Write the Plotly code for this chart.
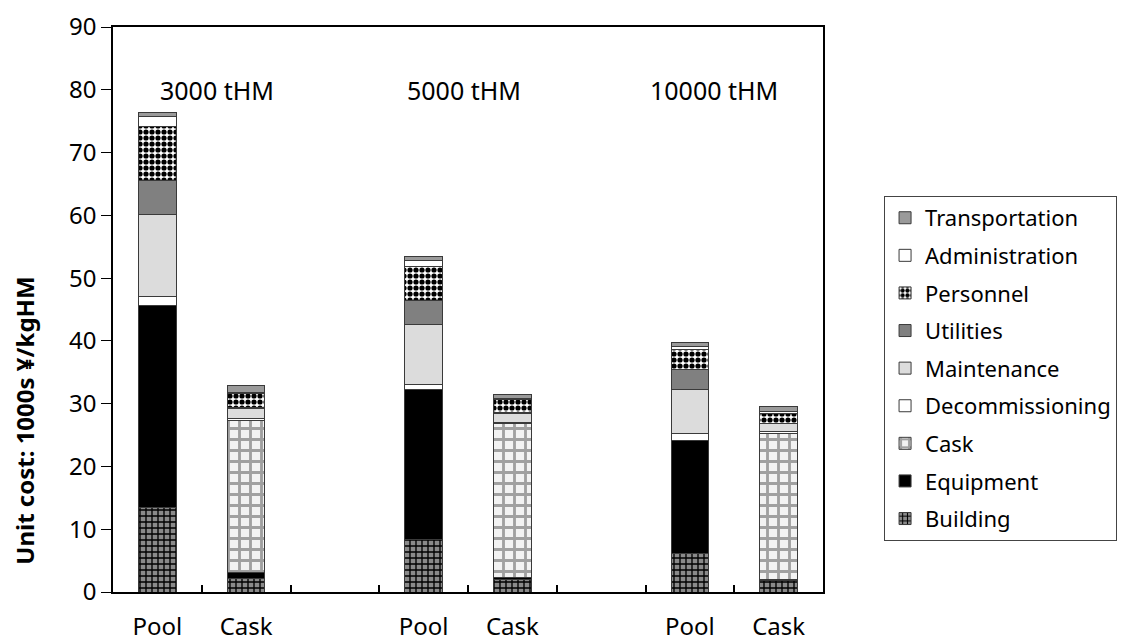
import plotly.graph_objects as go

# ---- data ----
groups = ["3000 tHM", "5000 tHM", "10000 tHM"]
bar_labels = ["Pool", "Cask", "Pool", "Cask", "Pool", "Cask"]
# bars order: Pool3000, Cask3000, Pool5000, Cask5000, Pool10000, Cask10000
building        = [13.4, 2.2, 8.4, 2.0, 6.2, 1.8]
equipment       = [32.2, 0.85, 23.8, 0.3, 18.0, 0.2]
cask            = [0.0, 24.3, 0.0, 24.5, 0.0, 23.3]
decommissioning = [1.5, 0.3, 0.9, 0.2, 1.0, 0.2]
maintenance     = [13.1, 1.6, 9.55, 1.5, 7.0, 1.3]
utilities       = [5.4, 0.1, 3.75, 0.1, 3.2, 0.1]
personnel       = [8.5, 2.2, 5.5, 2.0, 3.2, 1.6]
administration  = [1.6, 0.2, 0.85, 0.2, 0.5, 0.2]
transportation  = [0.73, 1.16, 0.75, 0.7, 0.7, 0.8]

y_ticks = [0, 10, 20, 30, 40, 50, 60, 70, 80, 90]

# slot positions: each group uses 3 slots (Pool, Cask, gap)
x_pos = [3 * (i // 2) + (i % 2) for i in range(len(bar_labels))]
group_x = [0.67, 3.46, 6.27]

FONT = "Noto Sans"
LINE = dict(color="#3a3a3a", width=1)

series = [
    ("Building", building, dict(color="#7a7a7a", pattern=dict(shape="+", fgcolor="black", bgcolor="#8a8a8a", size=6, solidity=0.4, fillmode="replace"))),
    ("Equipment", equipment, dict(color="black")),
    ("Cask", cask, dict(color="white", pattern=dict(shape="+", fgcolor="#a0a0a0", bgcolor="#f2f2f2", size=11, solidity=0.45, fillmode="replace"))),
    ("Decommissioning", decommissioning, dict(color="white")),
    ("Maintenance", maintenance, dict(color="#dcdcdc")),
    ("Utilities", utilities, dict(color="#808080")),
    ("Personnel", personnel, dict(color="white", pattern=dict(shape=".", fgcolor="black", bgcolor="white", size=6, solidity=0.6, fillmode="replace"))),
    ("Administration", administration, dict(color="white")),
    ("Transportation", transportation, dict(color="#9a9a9a")),
]

fig = go.Figure()
n = len(series)
for i, (name, vals, marker) in enumerate(series):
    m = dict(marker)
    m["line"] = LINE
    fig.add_trace(go.Bar(
        x=x_pos, y=vals, name=name, width=0.42, marker=m,
        legendgroup=name, legendrank=1000 + n - i,
    ))

for gx, g in zip(group_x, groups):
    fig.add_annotation(x=gx, y=80, xref="x", yref="y", text=g, showarrow=False,
                       font=dict(family=FONT, size=25, color="black"))

fig.add_annotation(x=-0.124, y=0.303, xref="paper", yref="paper",
                   xanchor="center", yanchor="middle",
                   text="<b>Unit cost: 1000s ¥/kgHM</b>", textangle=-90, showarrow=False,
                   font=dict(family=FONT, size=24, color="black"))

fig.update_layout(
    barmode="stack",
    width=1132, height=641,
    margin=dict(l=105, r=317, t=19, b=57, autoexpand=False),
    paper_bgcolor="white", plot_bgcolor="white",
    font=dict(family=FONT, size=22, color="black"),
    showlegend=True,
    legend=dict(x=1.086, y=0.701, xanchor="left", yanchor="top",
                traceorder="grouped", bordercolor="#444", borderwidth=1,
                bgcolor="white", font=dict(family=FONT, size=22),
                tracegroupgap=6),
)
fig.update_xaxes(
    range=[-0.5, 7.5], tickmode="array", tickvals=x_pos, ticktext=bar_labels,
    ticks="", ticklabelstandoff=12, showline=True, linecolor="black", linewidth=1.5,
    mirror=True, showgrid=False, zeroline=False,
    tickfont=dict(family=FONT, size=24),
    minor=dict(tickmode="array", tickvals=[0.5, 1.5, 2.5, 3.5, 4.5, 5.5, 6.5],
               ticks="inside", ticklen=7, tickcolor="black", tickwidth=1.5, showgrid=False),
)
fig.update_yaxes(
    range=[0, 90], tickmode="array", tickvals=y_ticks, ticks="outside", ticklen=10,
    tickcolor="black", showline=True, linecolor="black", linewidth=1.5, mirror=True,
    showgrid=False, zeroline=False, tickfont=dict(family=FONT, size=24),
)

fig.write_html("out.html")
